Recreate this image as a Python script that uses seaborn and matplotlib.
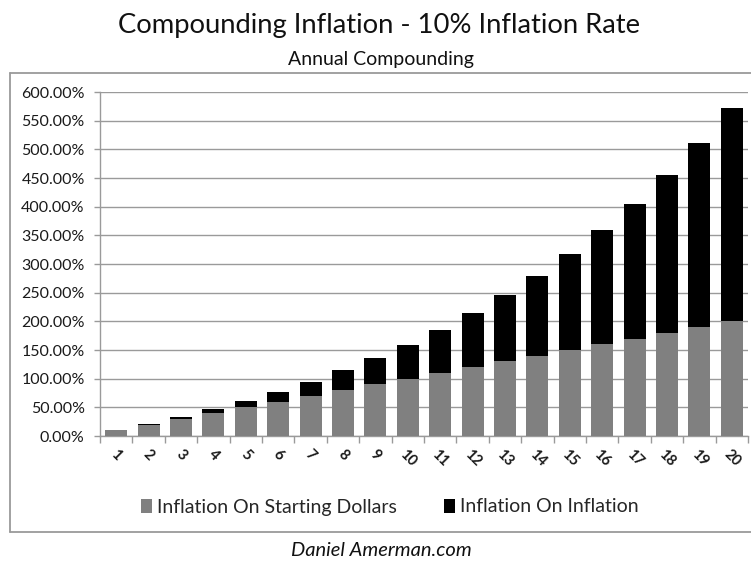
import matplotlib
matplotlib.use("Agg")
import matplotlib.pyplot as plt
import seaborn as sns
import numpy as np
import pandas as pd
from matplotlib.lines import Line2D
from matplotlib.patches import Patch
from matplotlib.ticker import FuncFormatter, MultipleLocator

years = [str(i) for i in range(1, 21)]
# percent of starting dollars
starting_dollars = [10, 20, 30, 40, 50, 60, 70, 80, 90, 100,
                    110, 120, 130, 140, 150, 160, 170, 180, 190, 200]
inflation_on_inflation = [0.00, 1.00, 3.10, 6.41, 11.05, 17.16, 24.87, 34.36, 45.79, 59.37,
                          75.31, 93.84, 115.23, 139.75, 167.72, 199.50, 235.45, 275.99, 321.59, 372.75]

title = "Compounding Inflation - 10% Inflation Rate"
subtitle = "Annual Compounding"
series_names = ["Inflation On Starting Dollars", "Inflation On Inflation"]
footer = "Daniel Amerman.com"

df = pd.DataFrame({
    "year": years,
    "starting": starting_dollars,
    "total": np.array(starting_dollars) + np.array(inflation_on_inflation),
})

sns.set_theme(style="white")
plt.rcParams["font.family"] = ["Lato", "DejaVu Sans"]

GRAY = "#808080"
BLACK = "#000000"
GRID = "#9a9a9a"
TEXT = "#1a1a1a"
FRAME = "#9a9a9a"

fig = plt.figure(figsize=(7.51, 5.67), dpi=100)
ax = fig.add_axes([100 / 751, 1 - 436 / 567, 648 / 751, 344 / 567])

# stacked bars: full height in black, lower segment in gray
bar_kw = dict(saturation=1, width=0.68, linewidth=0, edgecolor="none", ax=ax)
sns.barplot(data=df, x="year", y="total", color=BLACK, zorder=3, **bar_kw)
sns.barplot(data=df, x="year", y="starting", color=GRAY, zorder=4, **bar_kw)

ax.set_xlim(-0.5, 19.5)
ax.set_ylim(0, 600)
ax.yaxis.set_major_locator(MultipleLocator(50))
ax.yaxis.set_major_formatter(FuncFormatter(lambda v, p: f"{v:.2f}%"))
ax.grid(axis="y", color=GRID, linewidth=1.0, zorder=0)
ax.set_axisbelow(True)
ax.set_xlabel("")
ax.set_ylabel("")

for side in ["top", "right"]:
    ax.spines[side].set_visible(False)
for side in ["left", "bottom"]:
    ax.spines[side].set_color(GRID)
    ax.spines[side].set_linewidth(1.0)

ax.tick_params(axis="y", which="major", length=4, width=1, color=GRID,
               direction="out", labelsize=11.5, labelcolor=TEXT, pad=7, left=True)
# category ticks sit between the bars
ax.set_xticks(np.arange(20))
ax.set_xticklabels(years, rotation=-45, ha="center", va="top",
                   fontsize=10.5, fontweight="bold", color=TEXT)
ax.tick_params(axis="x", which="major", length=0, pad=8)
ax.set_xticks(np.arange(-0.5, 20, 1), minor=True)
ax.tick_params(axis="x", which="minor", length=5, width=1, color=GRID,
               direction="out", bottom=True)

fig.text(379 / 751, 1 - 25 / 567, title, ha="center", va="center", fontsize=19.7, color="#111111")
fig.text(381 / 751, 1 - 60 / 567, subtitle, ha="center", va="center", fontsize=14, color="#111111")

handles = [Patch(facecolor=GRAY, edgecolor="none"), Patch(facecolor=BLACK, edgecolor="none")]
fig.legend(handles, series_names, loc="center", bbox_to_anchor=(390 / 751, 1 - 507 / 567),
           ncol=2, frameon=False, fontsize=14, handlelength=0.55, handleheight=0.75,
           handletextpad=0.3, columnspacing=2.4)

# chart frame
frame_top, frame_bottom, frame_left = 1 - 73 / 567, 1 - 532 / 567, 10 / 751
fig.add_artist(Line2D([frame_left, 1.0], [frame_top] * 2, color=FRAME, lw=1.3))
fig.add_artist(Line2D([frame_left] * 2, [frame_top, frame_bottom], color=FRAME, lw=1.3))
fig.add_artist(Line2D([frame_left, 1.0], [frame_bottom] * 2, color=FRAME, lw=1.3))

fig.text(381 / 751, 1 - 550 / 567, footer, ha="center", va="center",
         fontsize=14.5, style="italic", color="#111111")

fig.savefig("out.png", dpi=100)
